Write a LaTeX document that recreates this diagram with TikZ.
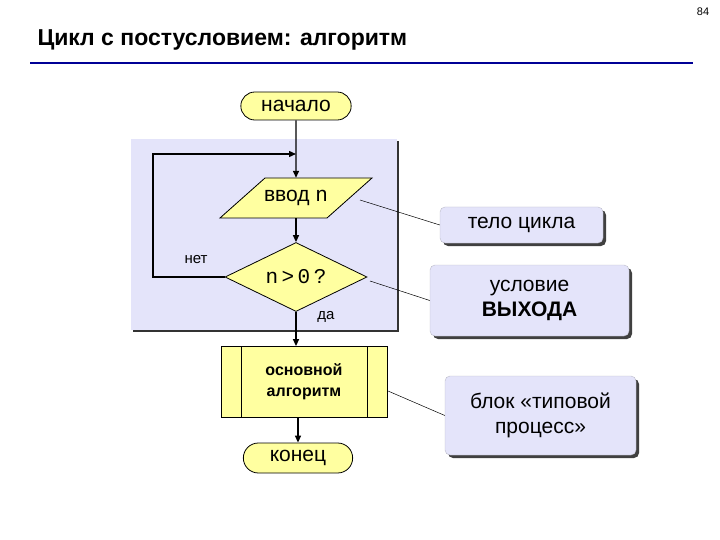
\documentclass[tikz,border=0pt]{standalone}
\usepackage{fontspec}
\setmainfont{Liberation Sans}
\setmonofont{Liberation Mono}
\usetikzlibrary{shapes.geometric,shapes.misc,arrows.meta}
\definecolor{yel}{RGB}{255,255,160}
\definecolor{lav}{RGB}{228,228,250}
\definecolor{titleblue}{RGB}{0,0,150}
\tikzset{
  flow/.style={draw,line width=0.8pt,fill=yel},
  arr/.style={line width=1.4pt,-{Triangle[length=7pt,width=6pt]}},
  call/.style={rounded corners=5pt,fill=lav,draw=lav!60!gray},
  shadow/.style={rounded corners=5pt,fill=black!75},
  big/.style={font=\fontsize{21}{25}\selectfont},
  lbl/.style={big,align=center},
  cline/.style={line width=0.5pt}
}
\begin{document}
\begin{tikzpicture}[x=1pt,y=-1pt]
\useasboundingbox (0,0) rectangle (720,540);
\node (title) [anchor=west,font=\bfseries\fontsize{23}{26}\selectfont] at (34,40) {Цикл с постусловием: алгоритм};
\node (pg) [font=\fontsize{11}{12}\selectfont] at (703,12) {84};
\draw[titleblue,line width=2pt] (30,63) -- (693,63);
% shaded area
\fill[black!80] (133,141) rectangle (399,332);
\fill[lav] (131,139) rectangle (397,330);
% start
\node (start) [flow,rounded rectangle,minimum width=117pt,minimum height=28pt,big] at (296,106) {начало};
% input parallelogram
\draw[flow] (265,178) -- (372,178) -- (327,218) -- (220,218) -- cycle;
\node (inp) [big,minimum width=100pt,minimum height=40pt] at (296,198) {ввод \texttt{n}};
% decision
\node (dec) [flow,diamond,minimum width=142pt,minimum height=69pt,inner sep=0pt,aspect=2,big] at (296,277) {\texttt{n\,>\,0\,?}};
% process
\node (proc) [flow,rectangle,minimum width=166pt,minimum height=71pt,align=center,font=\bfseries\fontsize{16}{21}\selectfont] at (304,382) {основной\\алгоритм};
\draw[line width=0.8pt] (241,347) -- (241,418) (367,347) -- (367,418);
% end
\node (stop) [flow,rounded rectangle,minimum width=116pt,minimum height=30pt,big] at (298,458) {конец};
\coordinate (loopin) at (296,154);
\draw[arr] (start) -- (inp.north -| start);
\draw[arr] (dec.west) -- (153,277) -- (153,154) -- (loopin);
\draw[arr] (inp.south -| start) -- (dec.north);
\draw[arr] (dec.south) -- (proc.north -| dec.south);
\draw[arr] (proc.south -| stop) -- (stop.north);
\node (no) [font=\fontsize{15}{17}\selectfont] at (196,260) {нет};
\node (yes) [font=\fontsize{15}{17}\selectfont] at (326,317) {да};
% callouts
\fill[shadow] (443,210) rectangle (606,246);
\node (c1) [call,lbl,minimum width=163pt,minimum height=36pt] at (521.5,225) {тело цикла};
\fill[shadow] (433,268) rectangle (632,339);
\node (c2) [call,lbl,minimum width=199pt,minimum height=71pt] at (529.5,300.5) {условие\\\textbf{ВЫХОДА}};
\fill[shadow] (448,379) rectangle (639,458);
\node (c3) [call,lbl,minimum width=191pt,minimum height=79pt] at (540.5,415.5) {блок «типовой\\процесс»};
\draw[cline] (360,200) -- (c1.west);
\draw[cline] (370,281) -- (c2.west);
\draw[cline] (388,391) -- (c3.west);
\end{tikzpicture}
\end{document}
